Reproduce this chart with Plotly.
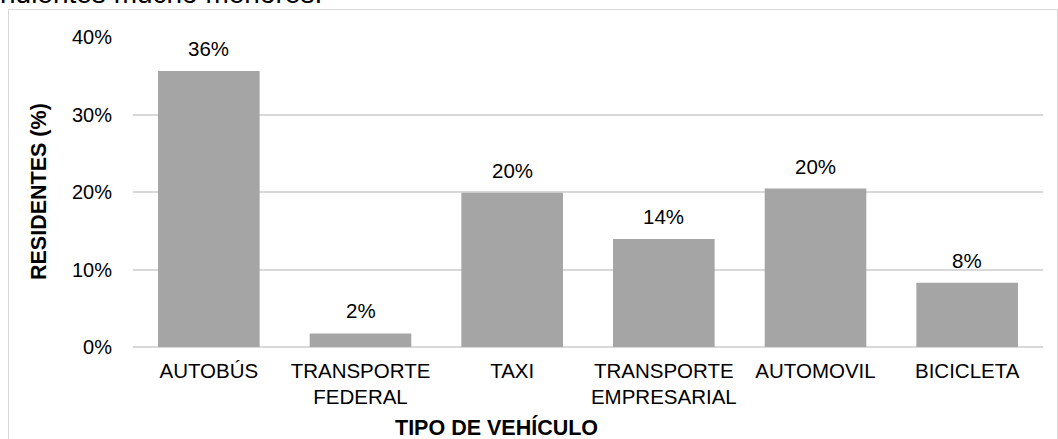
import plotly.graph_objects as go

# Vehicle types and share of residents (%)
categories = ["AUTOBÚS", "TRANSPORTE<br>FEDERAL", "TAXI", "TRANSPORTE<br>EMPRESARIAL", "AUTOMOVIL", "BICICLETA"]
residents_pct = [35.6, 1.75, 19.9, 13.95, 20.45, 8.3]
y_ticks = [0, 10, 20, 30, 40]
y_tick_labels = ["0%", "10%", "20%", "30%", "40%"]

FONT = "Arial, Liberation Sans, sans-serif"
W, H = 1058, 439
ML, MR, MT, MB = 133, 15, 37, 92
PW, PH = W - ML - MR, H - MT - MB


def px_x(px):
    return (px - ML) / PW


def px_y(py):
    return (H - MB - py) / PH


fig = go.Figure()
fig.add_trace(go.Bar(
    x=categories,
    y=residents_pct,
    marker=dict(color="#a5a5a5", line=dict(width=0)),
    hoverinfo="skip",
))

# Value labels above each bar
for cat, v in zip(categories, residents_pct):
    fig.add_annotation(
        x=cat, y=v, xref="x", yref="y",
        text=f"{round(v)}%", showarrow=False,
        yanchor="bottom", yshift=9,
        font=dict(family=FONT, size=20.5, color="#000000"),
    )

# Axis titles
fig.add_annotation(
    x=px_x(39), y=px_y(192), xref="paper", yref="paper",
    text="<b>RESIDENTES (%)</b>", textangle=-90, showarrow=False,
    xanchor="center", yanchor="middle",
    font=dict(family=FONT, size=21.5, color="#000000"),
)
fig.add_annotation(
    x=px_x(496), y=px_y(427), xref="paper", yref="paper",
    text="<b>TIPO DE VEHÍCULO</b>", showarrow=False,
    xanchor="center", yanchor="middle",
    font=dict(family=FONT, size=21.5, color="#000000"),
)

# Trailing line of the surrounding paragraph, clipped by the top edge
fig.add_annotation(
    x=px_x(-2), y=px_y(10.5), xref="paper", yref="paper",
    text="ndientes mucho menores.", showarrow=False,
    xanchor="left", yanchor="bottom",
    font=dict(family=FONT, size=28, color="#000000"),
)

# Chart frame
fig.add_shape(
    type="rect", xref="paper", yref="paper",
    x0=px_x(8.5), x1=px_x(1057.5), y0=px_y(460), y1=px_y(9.5),
    line=dict(color="#d9d9d9", width=1), fillcolor="rgba(0,0,0,0)",
    layer="below",
)

fig.update_layout(
    width=W, height=H,
    margin=dict(l=ML, r=MR, t=MT, b=MB, pad=0),
    paper_bgcolor="#ffffff", plot_bgcolor="#ffffff",
    bargap=0.33,
    showlegend=False,
    font=dict(family=FONT, size=20.5, color="#000000"),
    xaxis=dict(
        showline=False, showgrid=False, ticks="",
        ticklabelstandoff=9,
        tickfont=dict(family=FONT, size=20.5, color="#000000"),
    ),
    yaxis=dict(
        range=[0, 40], tickvals=y_ticks, ticktext=y_tick_labels,
        showgrid=True, gridcolor="#d9d9d9", gridwidth=1.5,
        zeroline=True, zerolinecolor="#d9d9d9", zerolinewidth=1.5,
        showline=False, ticks="", ticklabelstandoff=20,
        tickfont=dict(family=FONT, size=20, color="#000000"),
    ),
)

fig.write_html("out.html")
